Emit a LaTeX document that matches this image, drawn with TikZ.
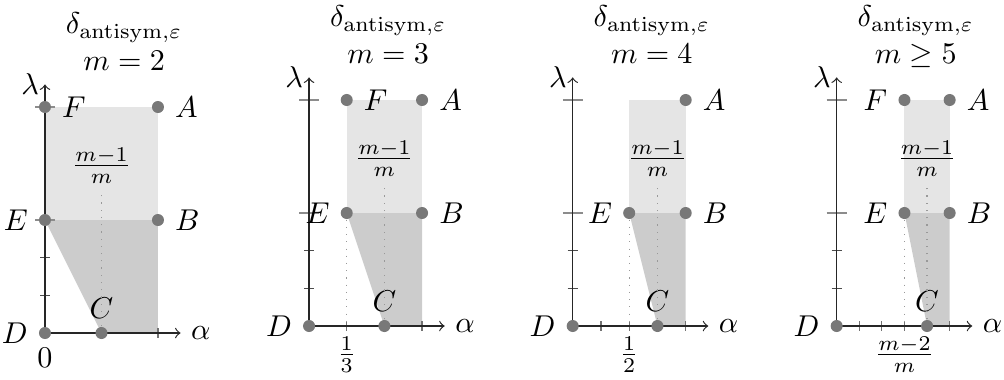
\documentclass[tikz,border=0pt]{standalone}
\usepackage{amsmath}
\begin{document}
\begin{tikzpicture}[x=1.32cm,y=1.32cm,
  dot/.style={circle,fill=black!53,inner sep=0pt,minimum size=4pt},
  lightreg/.style={fill=gray!20},
  darkreg/.style={fill=gray!40},
  axisline/.style={draw=black!85,thin,->},
  smalltick/.style={draw=black!70,thin},
  bigtick/.style={draw=black!45,thin},
  xtick/.style={draw=black!55,thin},
  dotline/.style={draw=gray!80,dotted,thin},
  lamlab/.style={left,inner sep=1.8pt},
  ttl/.style={anchor=base}]
\useasboundingbox (0,0) rectangle (8.885,3.354);

% ---------- panel 1 : m = 2
\begin{scope}[shift={(0.398,0.407)}]
\fill[lightreg] (0,1) rectangle (1,2);
\fill[darkreg] (0,1) -- (1,1) -- (1,0) -- (0.5,0) -- cycle;
\foreach \y in {1/3,2/3} \draw[smalltick] (-0.044,\y) -- (0.044,\y);
\foreach \y in {1,2} \draw[bigtick] (-0.088,\y) -- (0.088,\y);
\foreach \x in {0.5,1} \draw[xtick] (\x,-0.044) -- (\x,0.044);
\coordinate (o1) at (0,0);
\coordinate (xa1) at (1.2,0);
\coordinate (ya1) at (0,2.2);
\draw[axisline] (o1) -- (xa1) node[right] (al1) {$\alpha$};
\draw[axisline] (o1) -- (ya1) node[lamlab] (la1) {$\lambda$};
\node (q1) at (0.5,1.48) {$\frac{m-1}{m}$};
\node[dot,label=right:$A$] (A1) at (1,2) {};
\node[dot,label=right:$F$] (F1) at (0,2) {};
\node[dot,label=left:$E$] (E1) at (0,1) {};
\node[dot,label=right:$B$] (B1) at (1,1) {};
\node[dot,label={[label distance=-1pt]above:$C$}] (C1) at (0.5,0) {};
\node[dot,label=left:$D$] (D1) at (0,0) {};
\draw[dotline] (C1) -- (q1.south);
\node (z1) at (0,-0.22) {$0$};
\node[ttl] (t1) at (0.70,2.65) {$\delta_{\mathrm{antisym},\varepsilon}$};
\node[ttl] (s1) at (0.70,2.32) {$m=2$};
\end{scope}

% ---------- panel 2 : m = 3
\begin{scope}[shift={(2.735,0.469)}]
\fill[lightreg] (1/3,1) rectangle (1,2);
\fill[darkreg] (1/3,1) -- (1,1) -- (1,0) -- (2/3,0) -- cycle;
\foreach \y in {1/3,2/3} \draw[smalltick] (-0.044,\y) -- (0.044,\y);
\foreach \y in {1,2} \draw[bigtick] (-0.088,\y) -- (0.088,\y);
\foreach \x in {1/3,2/3,1} \draw[xtick] (\x,-0.044) -- (\x,0.044);
\coordinate (o2) at (0,0);
\coordinate (xa2) at (1.2,0);
\coordinate (ya2) at (0,2.2);
\coordinate (e2) at (1/3,0);
\draw[axisline] (o2) -- (xa2) node[right] (al2) {$\alpha$};
\draw[axisline] (o2) -- (ya2) node[lamlab] (la2) {$\lambda$};
\node (q2) at (2/3,1.48) {$\frac{m-1}{m}$};
\node[dot,label=right:$A$] (A2) at (1,2) {};
\node[dot,label=right:$F$] (F2) at (1/3,2) {};
\node[dot,label=left:$E$] (E2) at (1/3,1) {};
\node[dot,label=right:$B$] (B2) at (1,1) {};
\node[dot,label={[label distance=-1pt]above:$C$}] (C2) at (2/3,0) {};
\node[dot,label=left:$D$] (D2) at (0,0) {};
\draw[dotline] (C2) -- (q2.south);
\draw[dotline] (E2) -- (e2);
\node[below] (z2) at (e2) {$\frac{1}{3}$};
\node[ttl] (t2) at (0.70,2.65) {$\delta_{\mathrm{antisym},\varepsilon}$};
\node[ttl] (s2) at (0.70,2.32) {$m=3$};
\end{scope}

% ---------- panel 3 : m = 4
\begin{scope}[shift={(5.068,0.469)}]
\fill[lightreg] (1/2,1) rectangle (1,2);
\fill[darkreg] (1/2,1) -- (1,1) -- (1,0) -- (3/4,0) -- cycle;
\foreach \y in {1/3,2/3} \draw[smalltick] (-0.044,\y) -- (0.044,\y);
\foreach \y in {1,2} \draw[bigtick] (-0.088,\y) -- (0.088,\y);
\foreach \x in {1/4,1/2,3/4,1} \draw[xtick] (\x,-0.044) -- (\x,0.044);
\coordinate (o3) at (0,0);
\coordinate (xa3) at (1.2,0);
\coordinate (ya3) at (0,2.2);
\coordinate (e3) at (1/2,0);
\draw[axisline] (o3) -- (xa3) node[right] (al3) {$\alpha$};
\draw[axisline] (o3) -- (ya3) node[lamlab] (la3) {$\lambda$};
\node (q3) at (3/4,1.48) {$\frac{m-1}{m}$};
\node[dot,label=right:$A$] (A3) at (1,2) {};
\node[dot,label=left:$E$] (E3) at (1/2,1) {};
\node[dot,label=right:$B$] (B3) at (1,1) {};
\node[dot,label={[label distance=-1pt]above:$C$}] (C3) at (3/4,0) {};
\node[dot,label=left:$D$] (D3) at (0,0) {};
\draw[dotline] (C3) -- (q3.south);
\draw[dotline] (E3) -- (e3);
\node[below] (z3) at (e3) {$\frac{1}{2}$};
\node[ttl] (t3) at (0.70,2.65) {$\delta_{\mathrm{antisym},\varepsilon}$};
\node[ttl] (s3) at (0.70,2.32) {$m=4$};
\end{scope}

% ---------- panel 4 : m >= 5
\begin{scope}[shift={(7.404,0.469)}]
\fill[lightreg] (3/5,1) rectangle (1,2);
\fill[darkreg] (3/5,1) -- (1,1) -- (1,0) -- (4/5,0) -- cycle;
\foreach \y in {1/3,2/3} \draw[smalltick] (-0.044,\y) -- (0.044,\y);
\foreach \y in {1,2} \draw[bigtick] (-0.088,\y) -- (0.088,\y);
\foreach \x in {1/5,2/5,3/5,4/5,1} \draw[xtick] (\x,-0.044) -- (\x,0.044);
\coordinate (o4) at (0,0);
\coordinate (xa4) at (1.2,0);
\coordinate (ya4) at (0,2.2);
\coordinate (e4) at (3/5,0);
\draw[axisline] (o4) -- (xa4) node[right] (al4) {$\alpha$};
\draw[axisline] (o4) -- (ya4) node[lamlab] (la4) {$\lambda$};
\node (q4) at (4/5,1.48) {$\frac{m-1}{m}$};
\node[dot,label=right:$A$] (A4) at (1,2) {};
\node[dot,label=left:$F$] (F4) at (3/5,2) {};
\node[dot,label=left:$E$] (E4) at (3/5,1) {};
\node[dot,label=right:$B$] (B4) at (1,1) {};
\node[dot,label={[label distance=-1pt]above:$C$}] (C4) at (4/5,0) {};
\node[dot,label=left:$D$] (D4) at (0,0) {};
\draw[dotline] (C4) -- (q4.south);
\draw[dotline] (E4) -- (e4);
\node[below] (z4) at (e4) {$\frac{m-2}{m}$};
\node[ttl] (t4) at (0.70,2.65) {$\delta_{\mathrm{antisym},\varepsilon}$};
\node[ttl] (s4) at (0.70,2.32) {$m\geq 5$};
\end{scope}
\end{tikzpicture}
\end{document}
